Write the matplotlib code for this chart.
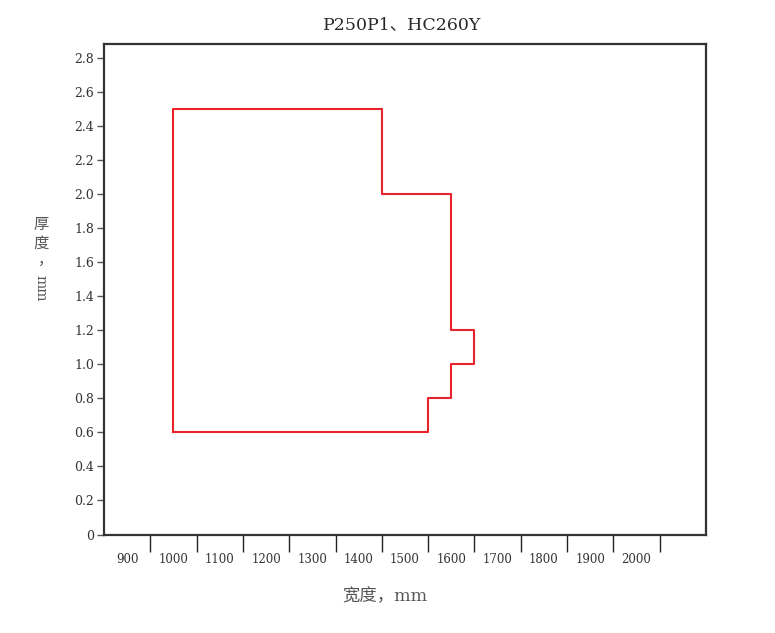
import matplotlib
matplotlib.use('Agg')
import matplotlib.pyplot as plt
from matplotlib.ticker import FixedLocator, FuncFormatter

plt.rcParams['font.family'] = ['DejaVu Serif', 'Noto Sans CJK SC', 'DejaVu Sans']

# widths (mm) and thicknesses (mm) of the outline
width = [1000, 1000, 1450, 1450, 1600, 1600, 1650, 1650, 1600, 1600, 1550, 1550, 1000]
thick = [0.6, 2.5, 2.5, 2.0, 2.0, 1.2, 1.2, 1.0, 1.0, 0.8, 0.8, 0.6, 0.6]

x_labels = [900, 1000, 1100, 1200, 1300, 1400, 1500, 1600, 1700, 1800, 1900, 2000]
y_ticks = [0, 0.2, 0.4, 0.6, 0.8, 1.0, 1.2, 1.4, 1.6, 1.8, 2.0, 2.2, 2.4, 2.6, 2.8]

fig = plt.figure(figsize=(7.75, 6.33), dpi=100)
ax = fig.add_axes([104/775, 1 - 534.5/633, 602/775, 490.5/633])

ax.plot(width, thick, color='#e8212b', lw=1.5)

ax.set_xlim(850, 2150)
ax.set_ylim(0, 2.885)

# category style x axis: boundary ticks, labels in the middle
ax.xaxis.set_major_locator(FixedLocator([x + 50 for x in x_labels]))
ax.xaxis.set_major_formatter(FuncFormatter(lambda v, p: ''))
ax.xaxis.set_minor_locator(FixedLocator(x_labels))
ax.xaxis.set_minor_formatter(FuncFormatter(lambda v, p: '%d' % v))
ax.tick_params(axis='x', which='major', length=12.5, width=1.0, color='#222222')
ax.tick_params(axis='x', which='minor', length=0, pad=13, labelsize=8.5, labelcolor='#333333')

ax.set_yticks(y_ticks)
ax.yaxis.set_major_formatter(FuncFormatter(lambda v, p: '0' if v == 0 else '%.1f' % v))
ax.tick_params(axis='y', length=5, width=1.0, color='#555555', labelsize=9, labelcolor='#333333', pad=2)

for s in ax.spines.values():
    s.set_linewidth(1.6)
    s.set_color('#333333')

fig.text(402/775, 1 - 25/633, 'P250P1、HC260Y', ha='center', va='center', fontsize=12.5, color='#2a2a2a')
fig.text(385/775, 1 - 597/633, '宽度，mm', ha='center', va='center', fontsize=12.5, color='#555555')

# vertical y label
for ch, xx, yy in [('厚', 41, 225), ('度', 41, 244), ('，', 46, 260)]:
    fig.text(xx/775, 1 - yy/633, ch, ha='center', va='center', fontsize=11, color='#555555')
fig.text(40/775, 1 - 288/633, 'mm', ha='center', va='center', rotation=-90, fontsize=10, color='#555555')

fig.savefig('out.png', dpi=100)
